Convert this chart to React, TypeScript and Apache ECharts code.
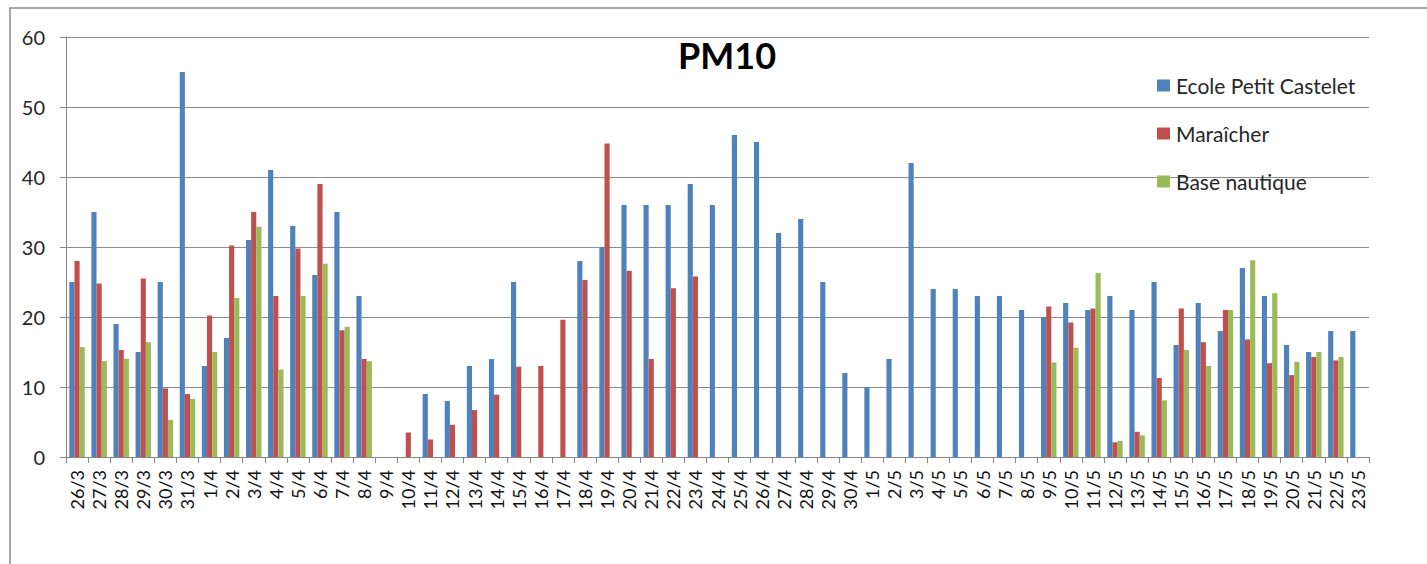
import React, { useEffect, useRef } from "react";
import * as echarts from "echarts";

const categories = [
  "26/3","27/3","28/3","29/3","30/3","31/3",
  "1/4","2/4","3/4","4/4","5/4","6/4","7/4","8/4","9/4","10/4","11/4","12/4","13/4","14/4","15/4",
  "16/4","17/4","18/4","19/4","20/4","21/4","22/4","23/4","24/4","25/4","26/4","27/4","28/4","29/4","30/4",
  "1/5","2/5","3/5","4/5","5/5","6/5","7/5","8/5","9/5","10/5","11/5","12/5","13/5","14/5","15/5",
  "16/5","17/5","18/5","19/5","20/5","21/5","22/5","23/5",
];

const ecole: (number | null)[] = [
  25, 35, 19, 15, 25, 55,
  13, 17, 31, 41, 33, 26, 35, 23, null, null, 9, 8, 13, 14, 25,
  null, null, 28, 30, 36, 36, 36, 39, 36, 46, 45, 32, 34, 25, 12,
  10, 14, 42, 24, 24, 23, 23, 21, 20, 22, 21, 23, 21, 25, 16,
  22, 18, 27, 23, 16, 15, 18, 18,
];

const maraicher: (number | null)[] = [
  28, 24.8, 15.3, 25.5, 9.8, 9,
  20.2, 30.2, 35, 23, 29.8, 39, 18.1, 14, null, 3.5, 2.5, 4.6, 6.7, 8.9, 12.9,
  13, 19.6, 25.3, 44.8, 26.6, 14, 24.1, 25.8, null, null, null, null, null, null, null,
  null, null, null, null, null, null, null, null, 21.5, 19.2, 21.2, 2.1, 3.6, 11.3, 21.2,
  16.4, 21, 16.8, 13.4, 11.7, 14.3, 13.8, null,
];

const baseNautique: (number | null)[] = [
  15.7, 13.7, 14, 16.4, 5.3, 8.3,
  15, 22.7, 32.9, 12.5, 23, 27.6, 18.6, 13.7, null, null, null, null, null, null, null,
  null, null, null, null, null, null, null, null, null, null, null, null, null, null, null,
  null, null, null, null, null, null, null, null, 13.5, 15.6, 26.3, 2.3, 3.1, 8.1, 15.3,
  13, 21, 28.1, 23.4, 13.6, 15, 14.3, null,
];

const seriesNames = ["Ecole Petit Castelet", "Maraîcher", "Base nautique"];
const colors = ["#4F81BD", "#C0504D", "#9BBB59"];
const title = "PM10";

export default function App() {
  const ref = useRef<HTMLDivElement>(null);
  useEffect(() => {
    document.body.style.margin = "0";
    if (!ref.current) return;
    const chart = echarts.init(ref.current, null, { renderer: "svg" });
    const font = "Lato, 'Liberation Sans', sans-serif";
    const data = [ecole, maraicher, baseNautique];
    chart.setOption({
      animation: false,
      textStyle: { fontFamily: font },
      title: {
        text: title,
        left: 722,
        top: 32,
        textAlign: "center",
        textStyle: { fontSize: 36, fontWeight: "bold", color: "#000", fontFamily: font },
      },
      legend: {
        orient: "vertical",
        left: 1152,
        top: 70,
        itemGap: 27,
        itemWidth: 13,
        itemHeight: 12,
        icon: "rect",
        textStyle: { fontSize: 21, color: "#262626", fontFamily: font, padding: [0, 0, 0, 1] },
        data: seriesNames,
      },
      graphic: [
        {
          type: "polyline",
          shape: { points: [[10, 600], [10, 8], [1440, 8]] },
          style: { stroke: "#8c8c8c", lineWidth: 1.5, fill: "none" },
          silent: true,
        },
      ],
      grid: { left: 66, right: 58, top: 37, bottom: 107 },
      xAxis: {
        type: "category",
        data: categories,
        axisLine: { lineStyle: { color: "#868686" } },
        axisTick: { show: true, length: 6, lineStyle: { color: "#868686" } },
        axisLabel: {
          rotate: 90,
          interval: 0,
          fontSize: 18,
          color: "#111",
          margin: 13,
          fontFamily: font,
        },
      },
      yAxis: {
        type: "value",
        min: 0,
        max: 60,
        interval: 10,
        axisLine: { show: true, lineStyle: { color: "#868686" } },
        axisTick: { show: true, length: 6, lineStyle: { color: "#868686" } },
        axisLabel: { fontSize: 20, color: "#262626", margin: 21, fontFamily: font },
        splitLine: { lineStyle: { color: "#8c8c8c", width: 1 } },
      },
      series: seriesNames.map((name, i) => ({
        name,
        type: "bar",
        data: data[i],
        barGap: "0%",
        barCategoryGap: "30%",
        itemStyle: { color: colors[i] },
      })),
    });
    return () => chart.dispose();
  }, []);
  return <div ref={ref} style={{ width: 1427, height: 564 }} />;
}
